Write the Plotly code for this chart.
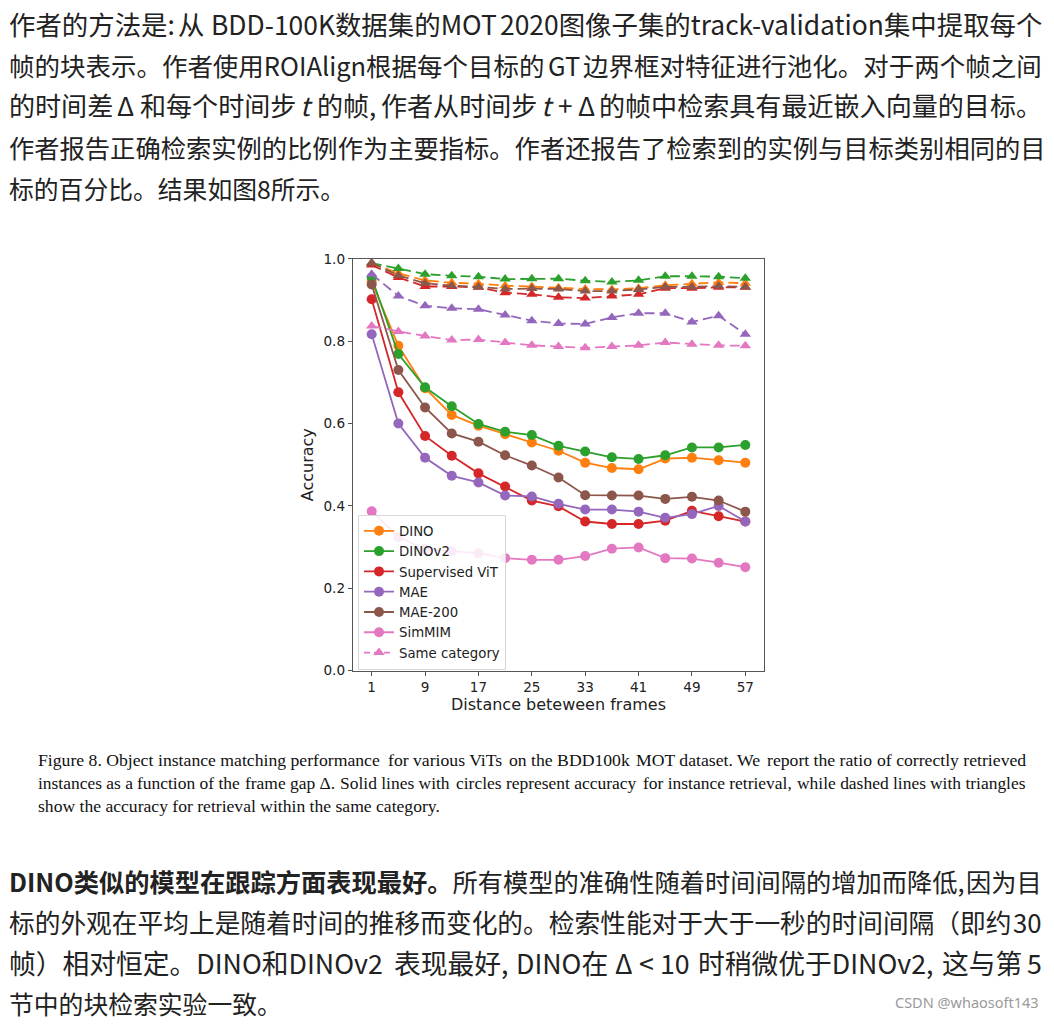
import re
import plotly.graph_objects as go

# the figure fills the whole 1054 x 1024 page (body margin removed after plotting)
PAGE_W, PAGE_H, OFF = 1054, 1024, 0
W, H = PAGE_W - 2 * OFF, PAGE_H - 2 * OFF
# measured vertical mapping of the photographed page (screen = A + S * page)
A_Y, S_Y = 6.8, 0.9854

def px(x):
    return (x - OFF) / W

def py(y):
    y_page = (y - A_Y) / S_Y
    return 1 - (y_page - OFF) / H

# ---------------- data ----------------
frames = [1, 5, 9, 13, 17, 21, 25, 29, 33, 37, 41, 45, 49, 53, 57]
x_ticks = [1, 9, 17, 25, 33, 41, 49, 57]
y_ticks = [0.0, 0.2, 0.4, 0.6, 0.8, 1.0]

models = ["DINO", "DINOv2", "Supervised ViT", "MAE", "MAE-200", "SimMIM"]
colors = ["#ff7f0e", "#2ca02c", "#d62728", "#9467bd", "#8c564b", "#e377c2"]

dino = [0.945, 0.789, 0.686, 0.621, 0.595, 0.574, 0.554, 0.534, 0.505, 0.492, 0.489, 0.515, 0.517, 0.511, 0.505]
dinov2 = [0.955, 0.769, 0.688, 0.642, 0.599, 0.580, 0.572, 0.546, 0.532, 0.518, 0.514, 0.523, 0.542, 0.542, 0.548]
sup_vit = [0.902, 0.676, 0.570, 0.522, 0.479, 0.447, 0.413, 0.399, 0.362, 0.356, 0.356, 0.364, 0.388, 0.375, 0.362]
mae = [0.817, 0.600, 0.517, 0.473, 0.457, 0.425, 0.423, 0.405, 0.391, 0.391, 0.386, 0.371, 0.380, 0.400, 0.362]
mae200 = [0.938, 0.730, 0.639, 0.576, 0.556, 0.523, 0.498, 0.469, 0.426, 0.425, 0.425, 0.417, 0.422, 0.413, 0.386]
simmim = [0.387, 0.324, 0.295, 0.290, 0.285, 0.273, 0.269, 0.269, 0.278, 0.296, 0.299, 0.273, 0.272, 0.262, 0.251]

dino_sc = [0.990, 0.965, 0.948, 0.942, 0.940, 0.935, 0.933, 0.930, 0.927, 0.926, 0.929, 0.936, 0.940, 0.943, 0.941]
dinov2_sc = [0.990, 0.977, 0.963, 0.959, 0.957, 0.951, 0.952, 0.952, 0.947, 0.944, 0.948, 0.958, 0.958, 0.957, 0.953]
sup_vit_sc = [0.985, 0.955, 0.933, 0.933, 0.931, 0.918, 0.914, 0.907, 0.905, 0.910, 0.914, 0.929, 0.929, 0.931, 0.931]
mae_sc = [0.963, 0.910, 0.886, 0.880, 0.878, 0.864, 0.850, 0.843, 0.842, 0.858, 0.868, 0.868, 0.847, 0.862, 0.817]
mae200_sc = [0.990, 0.960, 0.941, 0.935, 0.932, 0.927, 0.928, 0.927, 0.922, 0.922, 0.926, 0.932, 0.932, 0.934, 0.932]
simmim_sc = [0.837, 0.824, 0.813, 0.803, 0.804, 0.797, 0.790, 0.787, 0.784, 0.787, 0.790, 0.797, 0.793, 0.790, 0.789]

instance_acc = [dino, dinov2, sup_vit, mae, mae200, simmim]
category_acc = [dino_sc, dinov2_sc, sup_vit_sc, mae_sc, mae200_sc, simmim_sc]

top_lines = [
    "作者的方法是: 从 BDD-100K数据集的MOT 2020图像子集的track-validation集中提取每个",
    "帧的块表示。作者使用ROIAlign根据每个目标的 GT 边界框对特征进行池化。对于两个帧之间",
    "的时间差 Δ 和每个时间步 t 的帧, 作者从时间步 t + Δ 的帧中检索具有最近嵌入向量的目标。",
    "作者报告正确检索实例的比例作为主要指标。作者还报告了检索到的实例与目标类别相同的目",
    "标的百分比。结果如图8所示。",
]
caption_lines = [
    "Figure 8. Object instance matching performance for various ViTs on the BDD100k MOT dataset. We report the ratio of correctly retrieved",
    "instances as a function of the frame gap Δ. Solid lines with circles represent accuracy for instance retrieval, while dashed lines with triangles",
    "show the accuracy for retrieval within the same category.",
]
bottom_lines = [
    "DINO类似的模型在跟踪方面表现最好。所有模型的准确性随着时间间隔的增加而降低, 因为目",
    "标的外观在平均上是随着时间的推移而变化的。检索性能对于大于一秒的时间间隔（即约 30",
    "帧）相对恒定。DINO和DINOv2 表现最好, DINO在 Δ < 10 时稍微优于DINOv2, 这与第 5",
    "节中的块检索实验一致。",
]
bottom_bold = "DINO类似的模型在跟踪方面表现最好。"
watermark = "CSDN @whaosoft143"


# ---------------- text helpers (justified paragraph lines) ----------------
SANS_W = {" ": 200, "a": 486, "b": 549, "c": 448, "d": 549, "e": 500, "f": 292, "g": 492,
          "h": 541, "i": 243, "j": 250, "k": 489, "l": 252, "m": 823, "n": 543, "o": 534,
          "p": 549, "r": 341, "s": 413, "t": 326, "u": 540, "v": 466, "w": 721, "y": 466,
          "A": 544, "B": 599, "D": 630, "G": 617, "I": 268, "K": 592, "L": 483, "M": 726,
          "N": 646, "O": 673, "R": 592, "S": 540, "T": 531, "V": 524, "-": 311, ":": 234,
          ",": 234, ".": 234, "<": 497, "+": 497, "Δ": 620}
SERIF_W = {" ": 250, "a": 444, "b": 500, "c": 444, "d": 500, "e": 444, "f": 333, "g": 500,
           "h": 500, "i": 278, "j": 278, "k": 500, "l": 278, "m": 778, "n": 500, "o": 500,
           "p": 500, "q": 500, "r": 333, "s": 389, "t": 278, "u": 500, "v": 500, "w": 722,
           "x": 500, "y": 500, "z": 444, "B": 667, "D": 722, "F": 556, "K": 722, "M": 889,
           "O": 722, "S": 556, "T": 611, "V": 722, "W": 944, ".": 250, ",": 250, "Δ": 612}


def is_wide(ch):
    return ord(ch) >= 0x2E80


def advances(line, serif, bold_len=0):
    """estimated advance (in em) of every character"""
    out = []
    for i, c in enumerate(line):
        if is_wide(c):
            w = 1.0
        elif c.isdigit():
            w = 0.505 if serif else 0.56
        else:
            v = (SERIF_W if serif else SANS_W).get(c, 500) / 1000.0
            w = v * 1.01 if serif else v * 1.08
        if i < bold_len and not is_wide(c):
            w *= 1.06
        if not serif and i > 0:
            a = line[i - 1]
            if ((is_wide(a) and c.isalnum() and not is_wide(c)) or
                    (is_wide(c) and a.isalnum() and not is_wide(a))) and \
                    a not in "。，（）" and c not in "。，（）":
                w += 0.06
        out.append(w)
    return out


def esc(t, italic_t):
    t = t.replace("&", "&amp;").replace("<", "&lt;")
    if italic_t:
        t = re.sub(r"(?<![A-Za-z])t(?![A-Za-z\-])", "<i>t</i>", t)
    return t


def fmt(line, s, e, bold_len, italic_t):
    if s < bold_len:
        out = "<b>" + esc(line[s:min(e, bold_len)], italic_t) + "</b>"
        if e > bold_len:
            out += esc(line[bold_len:e], italic_t)
        return out
    return esc(line[s:e], italic_t)


def add_line(anns, line, x0, x1, y, font, justify, serif=False, bold_len=0,
             italic_t=False, words_per_seg=1):
    f = dict(font)
    adv = advances(line, serif, bold_len)
    natural = sum(adv)
    if not justify:
        anns.append(dict(text=fmt(line, 0, len(line), bold_len, italic_t),
                         xref="paper", yref="paper", x=px(x0), y=py(y),
                         xanchor="left", yanchor="middle", showarrow=False, font=f))
        return
    f["size"] = round(min((x1 - x0) / natural, font["size"] * 1.08), 2)
    k = (x1 - x0) / (natural * f["size"])
    cum = [0.0]
    for v in adv:
        cum.append(cum[-1] + v * f["size"] * k)
    # split at spaces (every `words_per_seg` words)
    cuts, count = [0], 0
    for i, c in enumerate(line):
        if c == " ":
            count += 1
            if count % words_per_seg == 0:
                cuts.append(i + 1)
    cuts.append(len(line))
    segs = []
    for s, e in zip(cuts[:-1], cuts[1:]):
        while s < e and line[s] == " ":
            s += 1
        while e > s and line[e - 1] == " ":
            e -= 1
        if e > s:
            segs.append((s, e))
    for j, (s, e) in enumerate(segs):
        if j == 0:
            xx, anchor = x0, "left"
        elif j == len(segs) - 1:
            xx, anchor = x1, "right"
        else:
            xx, anchor = x0 + (cum[s] + cum[e]) / 2, "center"
        anns.append(dict(text=fmt(line, s, e, bold_len, italic_t),
                         xref="paper", yref="paper", x=px(xx), y=py(y),
                         xanchor=anchor, yanchor="middle", showarrow=False, font=f))


# ---------------- figure ----------------
fig = go.Figure()

for name, col, inst, cat in zip(models, colors, instance_acc, category_acc):
    fig.add_trace(go.Scatter(
        x=frames, y=inst, mode="lines+markers", name=name,
        line=dict(color=col, width=1.8),
        marker=dict(symbol="circle", size=10, color=col),
    ))
    fig.add_trace(go.Scatter(
        x=frames, y=cat, mode="lines+markers", name=name + " (same category)",
        showlegend=False,
        line=dict(color=col, width=1.8, dash="10px,5px"),
        marker=dict(symbol="triangle-up", size=10, color=col),
    ))

fig.add_trace(go.Scatter(
    x=[None], y=[None], mode="lines+markers", name="Same category",
    line=dict(color=colors[5], width=1.8, dash="6px,4px"),
    marker=dict(symbol="triangle-up", size=10, color=colors[5]),
))

axis_font = dict(family="DejaVu Sans", size=13.6, color="#222")

fig.update_xaxes(
    domain=[px(353), px(764)], range=[-1.8, 59.8],
    tickmode="array", tickvals=x_ticks, ticktext=[str(v) for v in x_ticks],
    showline=True, mirror=True, linecolor="#555", linewidth=1.4,
    ticks="outside", ticklen=4, tickcolor="#555", tickwidth=1.2,
    showgrid=False, zeroline=False, tickfont=axis_font,
    title=dict(text="Distance beteween frames", font=dict(family="DejaVu Sans", size=16, color="#222"), standoff=3),
)
fig.update_yaxes(
    domain=[py(670), py(258)], range=[0, 1.0],
    tickmode="array", tickvals=y_ticks, ticktext=["%.1f" % v for v in y_ticks],
    showline=True, mirror=True, linecolor="#555", linewidth=1.4,
    ticks="outside", ticklen=4, tickcolor="#555", tickwidth=1.2,
    showgrid=False, zeroline=False, tickfont=axis_font,
    title=dict(text="Accuracy", font=dict(family="DejaVu Sans", size=16, color="#222"), standoff=5),
)

annotations = []
cjk_font = dict(family="Noto Sans CJK SC", size=24.8, color="#222")
serif_font = dict(family="Liberation Serif", size=17.6, color="#111")

for i, line in enumerate(top_lines):
    add_line(annotations, line, 7, 1044, 22 + i * 41.2, cjk_font,
             justify=(i < len(top_lines) - 1), italic_t=(i == 2))
for i, line in enumerate(caption_lines):
    add_line(annotations, line, 36, 1028, 760 + i * 22.7, serif_font,
             justify=(i < len(caption_lines) - 1), serif=True, words_per_seg=3)
for i, line in enumerate(bottom_lines):
    add_line(annotations, line, 7, 1044, 881 + i * 40.5, cjk_font,
             justify=(i < len(bottom_lines) - 1),
             bold_len=(len(bottom_bold) if i == 0 else 0))
annotations.append(dict(
    text=watermark, xref="paper", yref="paper", x=px(1041), y=py(1002),
    xanchor="right", yanchor="middle", showarrow=False,
    font=dict(family="Noto Sans", size=14.5, color="#9a9a9a"),
))

fig.update_layout(
    width=W, height=H, autosize=False,
    margin=dict(l=0, r=0, t=0, b=0),
    paper_bgcolor="white", plot_bgcolor="white",
    showlegend=True,
    legend=dict(
        x=px(358), y=py(514), xanchor="left", yanchor="top",
        bgcolor="rgba(255,255,255,0.85)", bordercolor="#d8d8d8", borderwidth=1,
        font=dict(family="DejaVu Sans", size=13.3, color="#222"),
        tracegroupgap=0,
    ),
    annotations=annotations,
)

fig.write_html("out.html", config={"displayModeBar": False},
               post_script="document.body.style.margin='0px';")
